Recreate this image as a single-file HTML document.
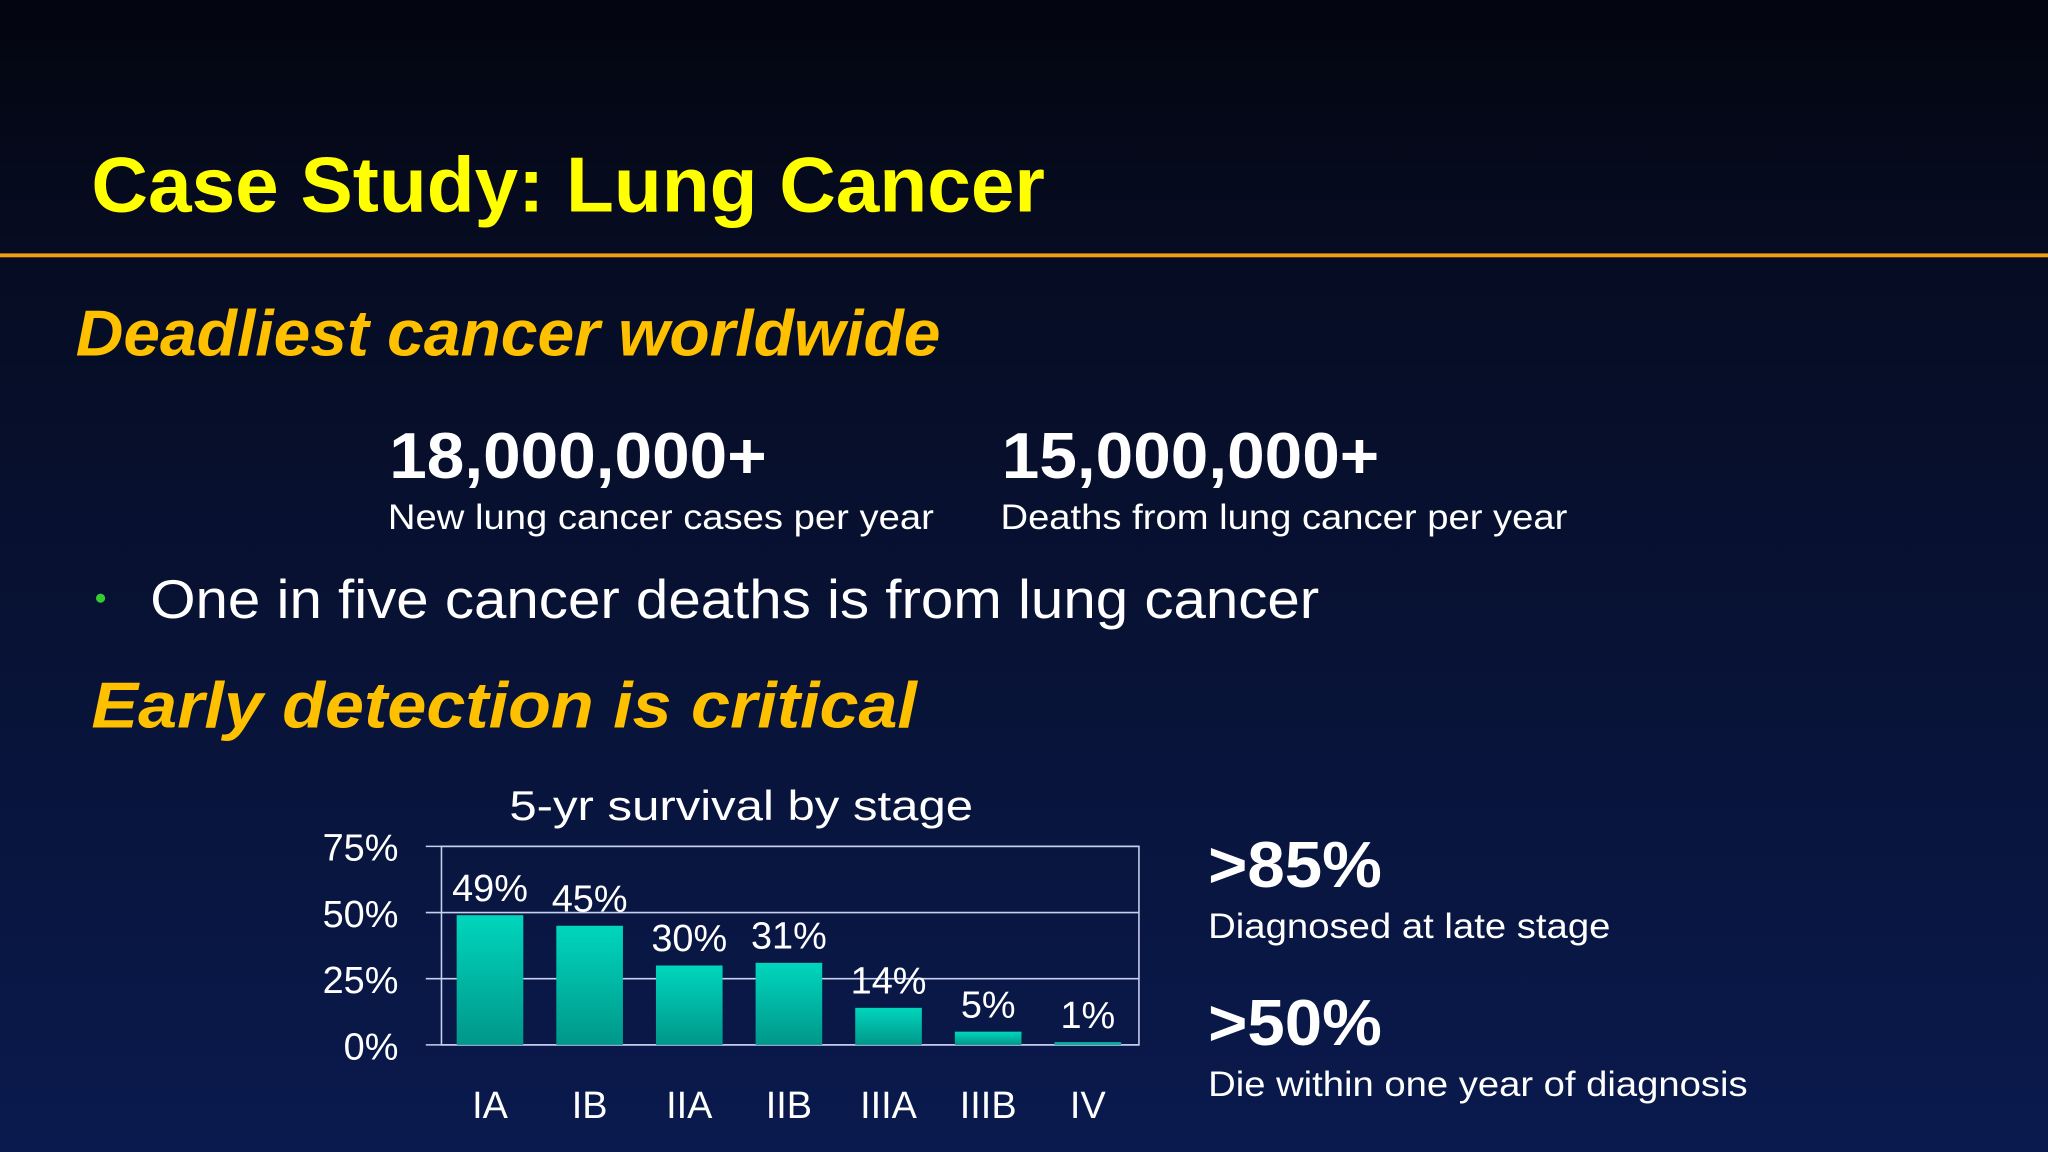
<!DOCTYPE html>
<html><head><meta charset="utf-8"><style>
html,body{margin:0;padding:0;background:#060b22;}
svg{display:block}
text{font-family:"Liberation Sans","DejaVu Sans",sans-serif;}
</style></head><body>
<svg id="slide" width="2048" height="1152" viewBox="0 0 1568 882" xmlns="http://www.w3.org/2000/svg">
<defs>
<linearGradient id="bg" x1="0" y1="0" x2="0" y2="1">
<stop offset="0" stop-color="#03050f"/><stop offset="0.22" stop-color="#060c22"/><stop offset="1" stop-color="#0a1a4e"/>
</linearGradient>
<linearGradient id="bar" x1="0" y1="0" x2="0" y2="1">
<stop offset="0" stop-color="#00d6bd"/><stop offset="1" stop-color="#00978a"/>
</linearGradient>
</defs>
<rect width="1568" height="882" fill="url(#bg)"/>
<rect x="0" y="194" width="1568" height="3" fill="#f0a010"/>
<text x="70" y="162" fill="#ffff00" font-size="60" font-weight="bold" textLength="730" lengthAdjust="spacingAndGlyphs">Case Study: Lung Cancer</text>
<text x="58" y="272" fill="#ffc000" font-size="50" font-weight="bold" font-style="italic" textLength="662" lengthAdjust="spacingAndGlyphs">Deadliest cancer worldwide</text>
<text x="298" y="366" fill="#fff" font-size="50" font-weight="bold" textLength="289" lengthAdjust="spacingAndGlyphs">18,000,000+</text>
<text x="297" y="405" fill="#fff" font-size="27" textLength="418" lengthAdjust="spacingAndGlyphs">New lung cancer cases per year</text>
<text x="767" y="366" fill="#fff" font-size="50" font-weight="bold" textLength="289" lengthAdjust="spacingAndGlyphs">15,000,000+</text>
<text x="766" y="405" fill="#fff" font-size="27" textLength="434" lengthAdjust="spacingAndGlyphs">Deaths from lung cancer per year</text>
<circle cx="77" cy="458" r="3.5" fill="#33cc33"/>
<text x="115" y="473" fill="#fff" font-size="42" textLength="895" lengthAdjust="spacingAndGlyphs">One in five cancer deaths is from lung cancer</text>
<text x="70" y="557" fill="#ffc000" font-size="50" font-weight="bold" font-style="italic" textLength="632" lengthAdjust="spacingAndGlyphs">Early detection is critical</text>
<text x="390" y="628" fill="#fff" font-size="32" textLength="355" lengthAdjust="spacingAndGlyphs">5-yr survival by stage</text>
<g id="chart"></g>
<text x="925" y="679" fill="#fff" font-size="50" font-weight="bold" textLength="133" lengthAdjust="spacingAndGlyphs">&gt;85%</text>
<text x="925" y="718" fill="#fff" font-size="27" textLength="308" lengthAdjust="spacingAndGlyphs">Diagnosed at late stage</text>
<text x="925" y="800" fill="#fff" font-size="50" font-weight="bold" textLength="133" lengthAdjust="spacingAndGlyphs">&gt;50%</text>
<text x="925" y="839" fill="#fff" font-size="27" textLength="413" lengthAdjust="spacingAndGlyphs">Die within one year of diagnosis</text>
</svg>
<script>
const categories = ["IA","IB","IIA","IIB","IIIA","IIIB","IV"];
const survival = [49,45,30,31,14,5,1];
const valueLabels = ["49%","45%","30%","31%","14%","5%","1%"];
const yTicks = [0,25,50,75];
const yTickLabels = ["0%","25%","50%","75%"];

const NS="http://www.w3.org/2000/svg";
const g=document.getElementById('chart');
const L=338,R=872,T=648,B=800,yMax=75;
const y=v=>B-(v/yMax)*(B-T);
const slot=(R-L)/categories.length;
const x=i=>L+slot*(i+0.5)-1;
const bw=51;
function mk(tag,attrs){const e=document.createElementNS(NS,tag);for(const k in attrs)e.setAttribute(k,attrs[k]);g.appendChild(e);return e;}
// frame
const fr=mk('rect',{x:L,y:T,width:R-L,height:B-T,fill:'none',stroke:'#c8d0f0','stroke-width':1.2});


yTicks.forEach((t,i)=>{
  const ln=mk('line',{x1:326,x2:R,y1:y(t),y2:y(t),stroke:'#c8d0f0','stroke-width':1.2});
  
  
  const tx=mk('text',{x:305,y:y(t)+11,fill:'#fff','font-size':29,'text-anchor':'end'});
  tx.textContent=yTickLabels[i];
  
  
});
categories.forEach((c,i)=>{
  const b=mk('rect',{x:x(i)-bw/2,y:y(survival[i]),width:bw,height:B-y(survival[i]),fill:'url(#bar)'});
  
  
  const v=mk('text',{x:x(i),y:y(survival[i])-11,fill:'#fff','font-size':29,'text-anchor':'middle'});
  v.textContent=valueLabels[i];
  
  
  const cl=mk('text',{x:x(i),y:856,fill:'#fff','font-size':29,'text-anchor':'middle'});
  cl.textContent=c;
  
  
});
</script>
</body></html>
